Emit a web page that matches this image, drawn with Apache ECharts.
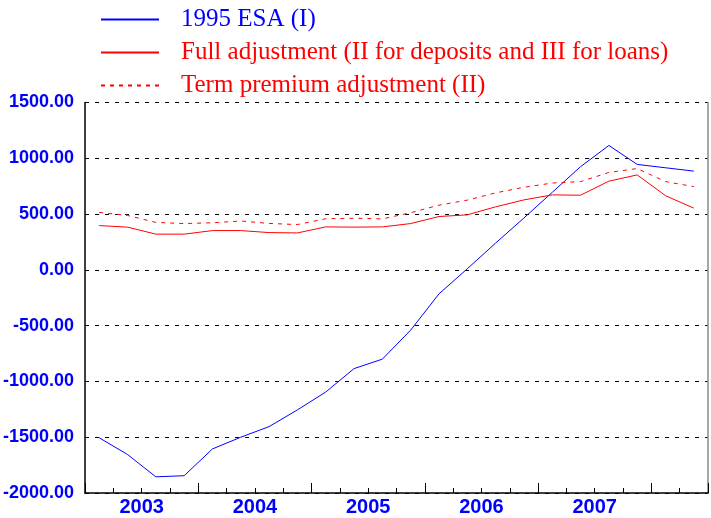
<!DOCTYPE html>
<html>
<head>
<meta charset="utf-8">
<script src="https://cdn.jsdelivr.net/npm/echarts@6/dist/echarts.min.js"></script>
<style>
  html, body { margin: 0; padding: 0; background: #fff; }
  #chart { width: 711px; height: 518px; }
</style>
</head>
<body>
<div id="chart"></div>
<script>
// quarters 2003Q1 .. 2008Q2
var years = ['2003', '2004', '2005', '2006', '2007'];
var esa = [-1505, -1655, -1855, -1845, -1605, -1500, -1405, -1255, -1095, -885, -800, -540,
           -215, 10, 240, 465, 695, 925, 1115, 945, 915, 885];
var fullAdj = [397, 383, 320, 320, 352, 352, 334, 331, 385, 383, 385, 415,
               478, 493, 565, 627, 672, 669, 795, 851, 665, 553];
var termAdj = [515, 488, 425, 415, 422, 438, 416, 406, 458, 463, 457, 512,
               580, 625, 690, 740, 778, 791, 873, 908, 791, 746];

function toPoints(arr) {
    return arr.map(function (v, i) { return [i + 0.5, v]; });
}

var chart = echarts.init(document.getElementById('chart'));

var blue = '#0000ff';
var red = '#ff0000';

var option = {
    animation: false,
    legend: {
        orient: 'vertical',
        left: 95,
        top: 2,
        itemWidth: 58,
        itemHeight: 14,
        itemGap: 8,
        itemStyle: { opacity: 0 },
        textStyle: {
            fontFamily: 'Liberation Serif',
            fontSize: 25,
            padding: [0, 0, 0, 17]
        },
        data: [
            { name: '1995 ESA (I)', textStyle: { color: blue } },
            { name: 'Full adjustment (II for deposits and III for loans)', textStyle: { color: red } },
            { name: 'Term premium adjustment (II)', textStyle: { color: red } }
        ]
    },
    grid: {
        left: 83,
        right: 1,
        top: 102.5,
        bottom: 25
    },
    xAxis: [{
        type: 'value',
        min: 0,
        max: 22,
        interval: 1,
        axisLine: { onZero: false, lineStyle: { color: '#000', width: 1.5 } },
        axisTick: { inside: true, length: 5, lineStyle: { color: '#000' } },
        splitLine: { show: false },
        axisLabel: {
            color: blue,
            fontFamily: 'Liberation Sans',
            fontWeight: 'bold',
            fontSize: 20,
            margin: 4,
            showMinLabel: true,
            showMaxLabel: true,
            formatter: function (v) {
                if ((v - 2) % 4 === 0 && (v - 2) / 4 < years.length) return years[(v - 2) / 4];
                return '';
            }
        }
    }, {
        type: 'value',
        position: 'bottom',
        min: 0,
        max: 22,
        interval: 4,
        axisLine: { show: false, onZero: false },
        axisTick: { inside: true, length: 10, lineStyle: { color: '#000' } },
        axisLabel: { show: false },
        splitLine: { show: false }
    }],
    yAxis: [{
        type: 'value',
        min: -2000,
        max: 1500,
        interval: 500,
        axisLine: { show: true, onZero: false, lineStyle: { color: '#000', width: 1.5 } },
        axisTick: { show: false },
        axisLabel: {
            color: blue,
            fontFamily: 'Liberation Sans',
            fontWeight: 'bold',
            fontSize: 18,
            margin: 11,
            formatter: function (v) { return v.toFixed(2); }
        },
        splitLine: { lineStyle: { color: '#000', type: [4, 6], width: 1 } }
    }, {
        type: 'value',
        position: 'right',
        min: -2000,
        max: 1500,
        interval: 500,
        axisLine: { show: true, onZero: false, lineStyle: { color: '#888', width: 1.5 } },
        axisTick: { show: false },
        axisLabel: { show: false },
        splitLine: { show: false }
    }],
    series: [{
        name: '1995 ESA (I)',
        type: 'line',
        symbol: 'none',
        color: blue,
        lineStyle: { color: blue, width: 1 },
        data: toPoints(esa)
    }, {
        name: 'Full adjustment (II for deposits and III for loans)',
        type: 'line',
        symbol: 'none',
        color: red,
        lineStyle: { color: red, width: 1 },
        data: toPoints(fullAdj)
    }, {
        name: 'Term premium adjustment (II)',
        type: 'line',
        symbol: 'none',
        color: red,
        lineStyle: { color: red, width: 1, type: [4, 5] },
        data: toPoints(termAdj)
    }]
};

chart.setOption(option);
</script>
</body>
</html>
